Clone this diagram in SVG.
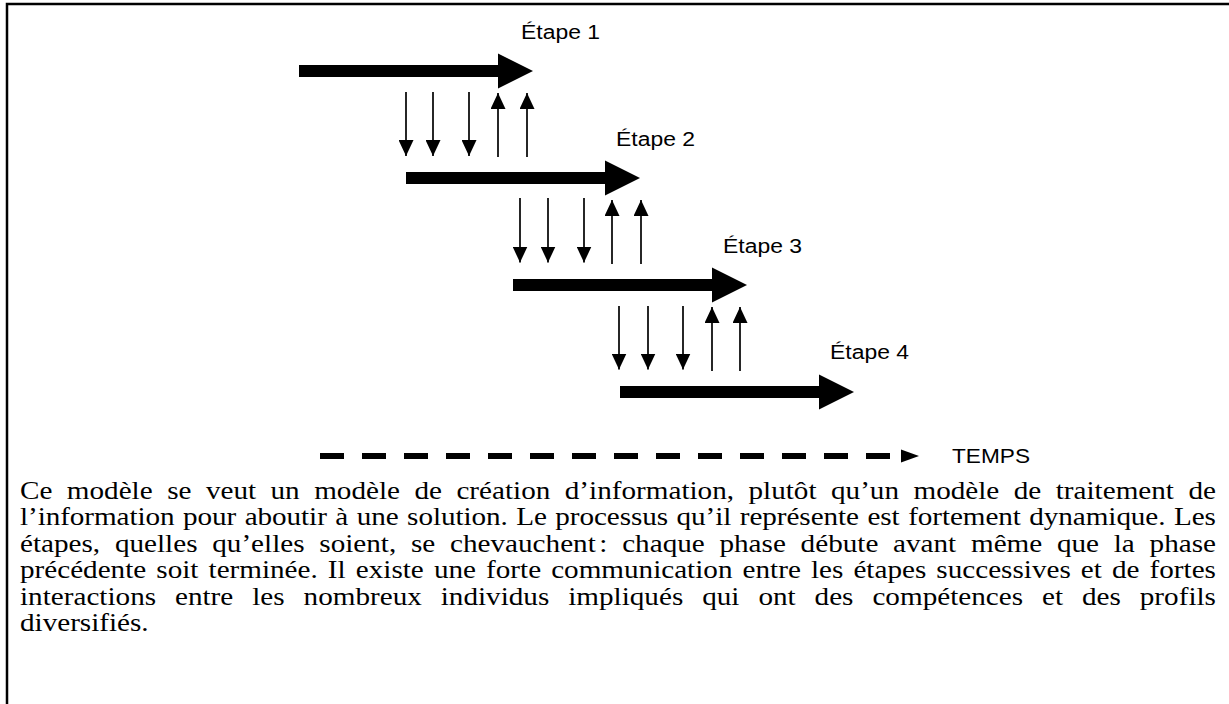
<svg xmlns="http://www.w3.org/2000/svg" width="1229" height="704" viewBox="0 0 1229 704">
  <style>
    .frame { fill: none; stroke: #000; stroke-width: 2.5; }
    .big { fill: #000; }
    .lbl { font-family: "Liberation Sans", Arial, sans-serif; font-size: 20px; fill: #000; }
    .thin { stroke: #000; stroke-width: 1.7; fill: none; marker-end: url(#head); }
    .para { font-family: "Liberation Serif", "Times New Roman", serif; font-size: 24.5px; fill: #000; }
  </style>
  <defs>
    <marker id="head" viewBox="0 0 16 15" refX="16" refY="7.5" markerWidth="16" markerHeight="15" markerUnits="userSpaceOnUse" orient="auto">
      <path d="M0,0 L16,7.5 L0,15 Z" fill="#000"/>
    </marker>
  </defs>
  <rect width="1229" height="704" fill="#fff"/>
  <path class="frame" d="M7,704 L7,4 L1229,4"/>

  <g id="etape1">
    <polygon class="big" points="299,65 498,65 498,53.5 533,71 498,88.5 498,77 299,77"/>
    <text class="lbl" x="521" y="39" textLength="79" lengthAdjust="spacingAndGlyphs">Étape 1</text>
  </g>
  <g id="etape2">
    <polygon class="big" points="406,172 605,172 605,160.5 640,178 605,195.5 605,184 406,184"/>
    <text class="lbl" x="616" y="146" textLength="79" lengthAdjust="spacingAndGlyphs">Étape 2</text>
  </g>
  <g id="etape3">
    <polygon class="big" points="513,279 712,279 712,267.5 747,285 712,302.5 712,291 513,291"/>
    <text class="lbl" x="723" y="253" textLength="79" lengthAdjust="spacingAndGlyphs">Étape 3</text>
  </g>
  <g id="etape4">
    <polygon class="big" points="620,386 819,386 819,374.5 854,392 819,409.5 819,398 620,398"/>
    <text class="lbl" x="830" y="359" textLength="79" lengthAdjust="spacingAndGlyphs">Étape 4</text>
  </g>

  <g id="connectors">
    <line class="thin" x1="406" y1="92" x2="406" y2="156"/>
    <line class="thin" x1="433" y1="92" x2="433" y2="156"/>
    <line class="thin" x1="469" y1="92" x2="469" y2="156"/>
    <line class="thin" x1="498" y1="157" x2="498" y2="93"/>
    <line class="thin" x1="527" y1="157" x2="527" y2="93"/>

    <line class="thin" x1="520" y1="198" x2="520" y2="262.5"/>
    <line class="thin" x1="548" y1="198" x2="548" y2="262.5"/>
    <line class="thin" x1="584" y1="198" x2="584" y2="262.5"/>
    <line class="thin" x1="612" y1="264" x2="612" y2="200"/>
    <line class="thin" x1="641" y1="264" x2="641" y2="200"/>

    <line class="thin" x1="619" y1="306" x2="619" y2="369.5"/>
    <line class="thin" x1="648" y1="306" x2="648" y2="369.5"/>
    <line class="thin" x1="683" y1="306" x2="683" y2="369.5"/>
    <line class="thin" x1="712" y1="371" x2="712" y2="307"/>
    <line class="thin" x1="740" y1="371" x2="740" y2="307"/>
  </g>

  <g id="temps">
    <line x1="320" y1="456" x2="890" y2="456" stroke="#000" stroke-width="6" stroke-dasharray="24 18"/>
    <polygon points="901,449.5 919,456 901,462.5" fill="#000"/>
    <text class="lbl" x="952" y="463" textLength="78" lengthAdjust="spacingAndGlyphs">TEMPS</text>
  </g>

  <g id="paragraph" transform="translate(20,0) scale(1.19,1)">
    <text class="para" x="0" y="499" word-spacing="6.02" textLength="1005" lengthAdjust="spacing">Ce modèle se veut un modèle de création d’information, plutôt qu’un modèle de traitement de</text>
    <text class="para" x="0" y="525.4" word-spacing="1.1" textLength="1005" lengthAdjust="spacing">l’information pour aboutir à une solution. Le processus qu’il représente est fortement dynamique. Les</text>
    <text class="para" x="0" y="551.8" word-spacing="6.26" textLength="1005" lengthAdjust="spacing">étapes, quelles qu’elles soient, se chevauchent<tspan dx="3">:</tspan> chaque phase débute avant même que la phase</text>
    <text class="para" x="0" y="578.2" word-spacing="2.34" textLength="1005" lengthAdjust="spacing">précédente soit terminée. Il existe une forte communication entre les étapes successives et de fortes</text>
    <text class="para" x="0" y="604.6" word-spacing="9.8" textLength="1005" lengthAdjust="spacing">interactions entre les nombreux individus impliqués qui ont des compétences et des profils</text>
    <text class="para" x="0" y="631">diversifiés.</text>
  </g>
</svg>
